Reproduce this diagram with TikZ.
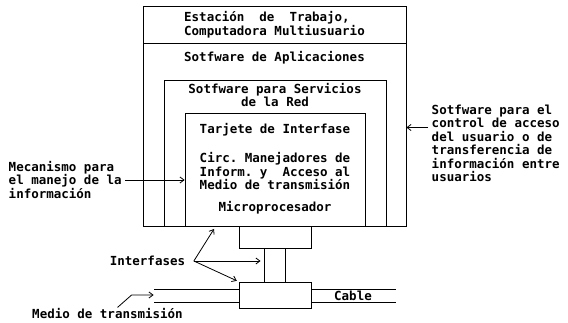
\documentclass[tikz,border=0pt]{standalone}
\usepackage{fontspec}
\setmonofont{DejaVu Sans Mono}
\usetikzlibrary{arrows.meta}

\begin{document}
\begin{tikzpicture}[x=1pt, y=-1pt, line width=0.8pt,
    >={Straight Barb[length=4pt,width=6pt]},
    font=\ttfamily\bfseries\fontsize{12.5}{13.5}\selectfont,
    caja/.style={draw, inner sep=0pt}]

  \useasboundingbox (0,0) rectangle (568,323);

  % cajas anidadas
  \node[caja, minimum width=263pt, minimum height=37pt, align=left] (estacion) at (274.5,24.5)
    {Estación\ \ de\ \ Trabajo,\\Computadora Multiusuario};
  \node[caja, minimum width=263pt, minimum height=183pt] (aplicaciones) at (274.5,134.5) {};
  \node[caja, minimum width=222pt, minimum height=146pt] (red) at (275,153) {};
  \node[caja, minimum width=180pt, minimum height=113pt] (tarjeta) at (275,169.5) {};

  \node (aplictxt) at (274.5,58) {Sotfware de Aplicaciones};
  \node[align=center] (redtxt) at (275,95) {Sotfware para Servicios\\de la Red};
  \node (tarjetatxt) at (275,130) {Tarjete de Interfase};
  \node[align=center] (circtxt) at (275,171.5)
    {Circ. Manejadores de\\Inform. y\ \ Acceso al\\Medio de transmisión};
  \node (microtxt) at (275,208) {Microprocesador};

  % interfases y cable
  \node[caja, minimum width=72pt, minimum height=22pt] (conector) at (275,237) {};
  \node[caja, minimum width=72pt, minimum height=26pt] (transceptor) at (275,295) {};
  \coordinate (tubo) at ([xshift=-10.5pt]conector.south);
  \draw (tubo) -- ([xshift=-10.5pt]transceptor.north)
        ([xshift=10.5pt]conector.south) -- ([xshift=10.5pt]transceptor.north);
  \draw ([yshift=6pt]transceptor.west) -- ++(-85,0)
        ([yshift=-7pt]transceptor.west) -- ++(-85,0);
  \draw ([yshift=6pt]transceptor.east) -- ++(85,0)
        ([yshift=-7pt]transceptor.east) -- ++(85,0);
  \node (cable) at (353,295.5) {Cable};

  % rotulos exteriores
  \node[anchor=west, align=left] (mecanismo) at (5,180)
    {Mecanismo para\\el manejo de la\\información};
  \draw[->] (mecanismo.east) -- (mecanismo.east -| tarjeta.west);

  \node[anchor=west, align=left] (control) at (428,143.5)
    {Sotfware para el\\control de acceso\\del usuario o de\\transferencia de\\información entre\\usuarios};
  \coordinate (acceso) at ([yshift=16pt]control.west);
  \draw[->] (acceso) -- (acceso -| aplicaciones.east);

  \node (interfases) at (147.5,261) {Interfases};
  \coordinate (ramal) at ([xshift=5pt]interfases.east);
  \coordinate (base) at (214,229);
  \draw[->] (ramal) -- (base);
  \draw[->, shorten >=4pt] (ramal) -- (ramal -| tubo);
  \draw[->, shorten >=2pt] (ramal) -- (transceptor.north west);

  \node[inner ysep=1pt] (medio) at (107.5,314) {Medio de transmisión};
  \coordinate (cableizq) at ([xshift=-85pt]transceptor.west);
  \draw[->] ([xshift=10pt]medio.north) -- ([xshift=-22pt]cableizq) -- (cableizq);

\end{tikzpicture}
\end{document}
